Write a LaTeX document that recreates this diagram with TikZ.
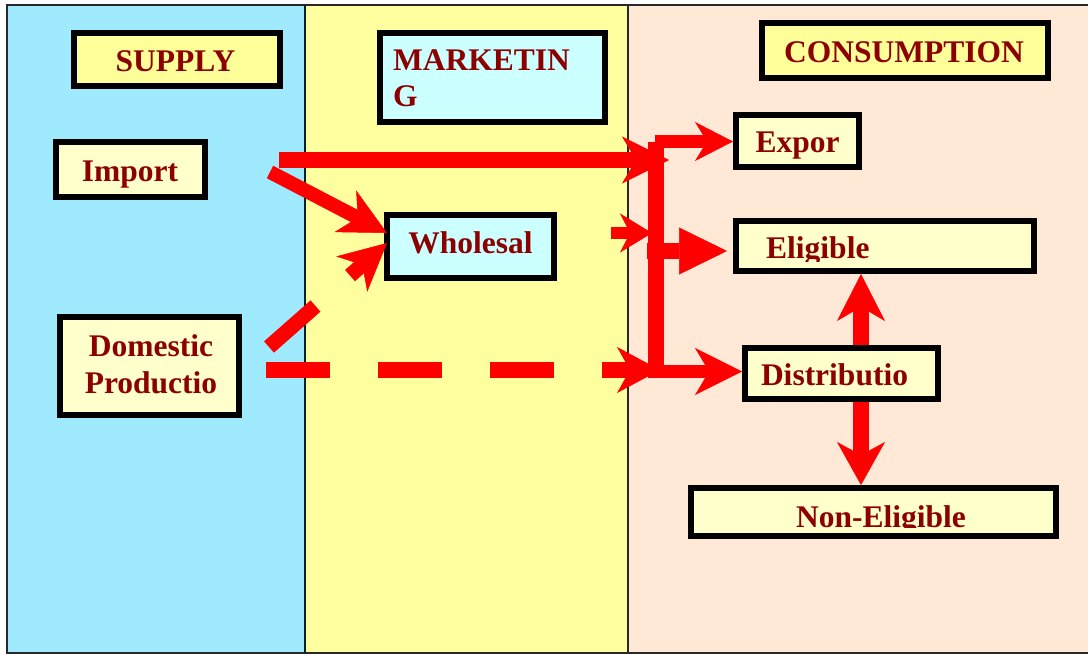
\documentclass[tikz,border=0pt]{standalone}
\usepackage{fontspec}
\setmainfont{Liberation Serif}
\usetikzlibrary{arrows.meta}
\definecolor{panelblue}{RGB}{160,234,255}
\definecolor{panelyellow}{RGB}{255,255,160}
\definecolor{panelpeach}{RGB}{255,232,214}
\definecolor{boxyellow}{RGB}{255,255,153}
\definecolor{boxcream}{RGB}{255,255,204}
\definecolor{boxcyan}{RGB}{204,255,255}
\definecolor{txtred}{RGB}{140,0,0}
\definecolor{arrred}{RGB}{255,0,0}
\definecolor{frameline}{RGB}{40,40,40}
\begin{document}
\begin{tikzpicture}[x=1pt,y=-1pt,
  box/.style={draw=black, line width=6pt, inner sep=0pt, rectangle},
  lbl/.style={text=txtred, font=\fontsize{31.5}{36}\selectfont\bfseries, inner sep=0pt},
  flow/.style={draw=arrred, line width=15pt, line cap=butt},
  big/.style={-{Stealth[length=47pt,width=47pt,inset=14pt,line width=0.5pt]}},
  panelline/.style={draw=frameline, line width=1.5pt}
]
\useasboundingbox (0,0) rectangle (1088,655);
\fill[white] (0,0) rectangle (1088,655);
% panels
\fill[panelblue] (7,5) rectangle (305,653);
\fill[panelyellow] (305,5) rectangle (628,653);
\fill[panelpeach] (628,5) rectangle (1090,653);
\draw[panelline] (1090,5) -- (7,5) -- (7,653) -- (1090,653);
\draw[panelline, line width=2.5pt, draw=black!70!teal] (305,5) -- (305,653);
\draw[panelline] (628,5) -- (628,653);

% boxes
\node[box, fill=boxyellow, minimum width=206pt, minimum height=53pt] (supply) at (177,59.5) {};
\node[box, fill=boxcyan, minimum width=225pt, minimum height=89pt] (marketing) at (492.5,77.5) {};
\node[box, fill=boxyellow, minimum width=286pt, minimum height=55pt] (consumption) at (905,50.5) {};
\node[box, fill=boxcream, minimum width=149pt, minimum height=55pt] (import) at (130.5,169.5) {};
\node[box, fill=boxcream, minimum width=179pt, minimum height=98pt] (domestic) at (149.5,366) {};
\node[box, fill=boxcyan, minimum width=167pt, minimum height=63pt] (wholesal) at (470.5,246.5) {};
\node[box, fill=boxcream, minimum width=123pt, minimum height=52pt] (expor) at (797.5,141) {};
\node[box, fill=boxcream, minimum width=298pt, minimum height=50pt] (eligible) at (885,246) {};
\node[box, fill=boxcream, minimum width=193pt, minimum height=51pt] (distrib) at (841.5,373.5) {};
\node[box, fill=boxcream, minimum width=365pt, minimum height=48pt] (noneligible) at (873.5,512) {};

% texts
\node[lbl, anchor=base] (tsupply) at (175.5,72) {SUPPLY};
\node[lbl, anchor=base west, align=left, font=\fontsize{31.5}{36}\selectfont\bfseries] (tmarketing) at (393,107) {MARKETIN\\G};
\node[lbl, anchor=base] (tconsumption) at (904,63) {CONSUMPTION};
\node[lbl, anchor=base] (timport) at (130,182) {Import};
\node[lbl, anchor=base, align=center, font=\fontsize{31.5}{37}\selectfont\bfseries] (tdomestic) at (151,393) {Domestic\\Productio};
\node[lbl, anchor=base] (twholesal) at (470.5,254) {Wholesal};
\node[lbl, anchor=base] (texpor) at (797.5,153) {Expor};
\begin{scope}
  \clip (736,221) rectangle (1034,262);
  \node[lbl, anchor=base west] (teligible) at (766,259) {Eligible};
\end{scope}
\node[lbl, anchor=base] (tdistrib) at (834.5,385) {Distributio};
\begin{scope}
  \clip (691,488) rectangle (1056,527);
  \node[lbl, anchor=base] (tnoneligible) at (881,527) {Non-Eligible};
\end{scope}

% connector coordinates
\coordinate (impTop) at (279,160);
\coordinate (impTopEnd) at (669,160);
\coordinate (impDiag) at (270,172);
\coordinate (whIn1) at (387,233);
\coordinate (domDiag) at (269,347);
\coordinate (whIn2) at (387,243);
\coordinate (domH) at (266,370);
\coordinate (domHEnd) at (660,370);
\coordinate (whOut) at (611,233);
\coordinate (whOutEnd) at (652,233);
\coordinate (barTop) at (655.5,142);
\coordinate (barBot) at (655.5,378);
\coordinate (topStart) at (655,141.5);
\coordinate (botStart) at (655,371.5);
\coordinate (elStart) at (647,251);
\coordinate (elEnd) at (727,251);
\coordinate (dx) at (861,0);

% bracket bar
\draw[flow, line width=16pt] (barTop) -- (barBot);

% arrows
\draw[flow, line width=16pt, big] (impTop) -- (impTopEnd);
\draw[flow, line width=14pt, big] (impDiag) -- (whIn1);
\draw[flow, line width=15pt, big, dash pattern=on 62pt off 46pt] (domDiag) -- (whIn2);
\draw[flow, line width=16pt, -{Stealth[length=43pt,width=46pt,inset=13pt,line width=0.5pt]}, dash pattern=on 64pt off 48pt] (domH) -- (domHEnd);
\draw[flow, line width=12pt, -{Stealth[length=32pt,width=39pt,inset=10pt,line width=0.5pt]}] (whOut) -- (whOutEnd);
\draw[flow, line width=13pt, -{Stealth[length=38pt,width=39pt,inset=12pt,line width=0.5pt]}] (topStart) -- (expor.west |- topStart);
\draw[flow, line width=16pt, -{Triangle[length=48pt,width=47pt,line width=0.5pt]}] (elStart) -- (elEnd);
\draw[flow, line width=13pt, big] (botStart) -- (distrib.west |- botStart);
\draw[flow, line width=16pt, -{Stealth[length=47pt,width=48pt,inset=14pt,line width=0.5pt]}] (distrib.north -| dx) -- (eligible.south -| dx);
\draw[flow, line width=16pt, -{Stealth[length=43pt,width=48pt,inset=13pt,line width=0.5pt]}] (distrib.south -| dx) -- (noneligible.north -| dx);
\end{tikzpicture}
\end{document}
